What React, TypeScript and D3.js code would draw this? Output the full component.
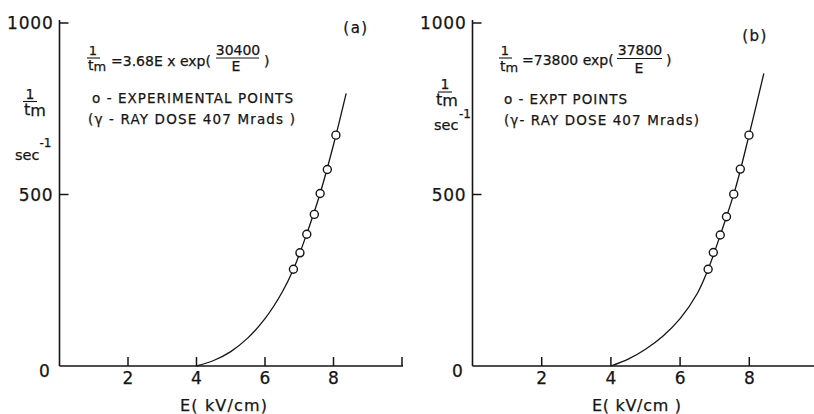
import React from "react";
import * as d3 from "d3";

// ---- data ----
const xTickValues = [2, 4, 6, 8, 10];
const xTickLabels = ["2", "4", "6", "8", ""];
const yTickValues = [0, 500, 1000];
const yTickLabels = ["0", "500", "1000"];

// Panel (a)
const ptsA_E = [6.83, 7.02, 7.22, 7.44, 7.61, 7.82, 8.07];
const ptsA_R = [282, 330, 384, 442, 503, 573, 673];
const fitA_E = [4.0, 4.5, 5.0, 5.5, 6.0, 6.5, 6.83, 7.2, 7.6, 8.0, 8.37];
const fitA_R = [0, 16, 42, 82, 138, 215, 282, 380, 500, 645, 795];

// Panel (b)
const ptsB_E = [6.81, 6.96, 7.16, 7.34, 7.55, 7.74, 7.99];
const ptsB_R = [282, 331, 382, 435, 501, 574, 673];
const fitB_E = [4.0, 4.5, 5.0, 5.5, 6.0, 6.5, 6.81, 7.2, 7.6, 8.0, 8.42];
const fitB_R = [0, 20, 49, 87, 138, 212, 282, 393, 518, 676, 853];

const FONT = "DejaVu Sans";
const INK = "#151515";

type PanelProps = {
  x: d3.ScaleLinear<number, number>;
  y: d3.ScaleLinear<number, number>;
  axisEnd: number;
  ptsE: number[];
  ptsR: number[];
  fitE: number[];
  fitR: number[];
};

function Panel({ x, y, axisEnd, ptsE, ptsR, fitE, fitR }: PanelProps) {
  const fit: [number, number][] = fitE.map((e, i) => [e, fitR[i]]);
  const line = d3
    .line<[number, number]>()
    .x((d) => x(d[0]))
    .y((d) => y(d[1]))
    .curve(d3.curveCatmullRom.alpha(0.5));
  const x0 = x(0);
  const y0 = y(0);
  return (
    <g>
      {/* axes */}
      <line x1={x0} x2={x0} y1={y(1000) - 3} y2={y0} stroke={INK} strokeWidth={1.6} />
      <line x1={x0} x2={axisEnd} y1={y0} y2={y0} stroke={INK} strokeWidth={1.6} />
      {yTickValues.map((v, i) => (
        <g key={"y" + v}>
          {v > 0 && <line x1={x0} x2={x0 + 9} y1={y(v)} y2={y(v)} stroke={INK} strokeWidth={1.5} />}
          <text
            x={x0 - (v === 0 ? 9 : 6)}
            y={y(v) + (v === 0 ? 11 : 6)}
            textAnchor="end"
            fontSize={17}
            letterSpacing={0.8}
            fontFamily={FONT}
            fill={INK}
            stroke={INK}
            strokeWidth={0.25}
          >
            {yTickLabels[i]}
          </text>
        </g>
      ))}
      {xTickValues.map((v, i) => (
        <g key={"x" + v}>
          <line x1={x(v)} x2={x(v)} y1={y0} y2={y0 - 9} stroke={INK} strokeWidth={1.5} />
          <text
            x={x(v)}
            y={y0 + 18}
            textAnchor="middle"
            fontSize={17}
            fontFamily={FONT}
            fill={INK}
            stroke={INK}
            strokeWidth={0.25}
          >
            {xTickLabels[i]}
          </text>
        </g>
      ))}
      <path d={line(fit) ?? ""} fill="none" stroke={INK} strokeWidth={1.3} />
      {ptsE.map((e, i) => (
        <circle key={i} cx={x(e)} cy={y(ptsR[i])} r={4} fill="#fff" stroke={INK} strokeWidth={1.4} />
      ))}
    </g>
  );
}

export default function App() {
  const y = d3.scaleLinear().domain([0, 1000]).range([366, 23]);
  const xA = d3.scaleLinear().domain([0, 10]).range([59.5, 402]);
  const xB = d3.scaleLinear().domain([0, 10]).range([472.5, 818.5]);
  const t = { fontFamily: FONT, fill: INK, stroke: INK, strokeWidth: 0.25 } as const;
  return (
    <svg
      width={814}
      height={414}
      viewBox="0 0 814 414"
      style={{ position: "absolute", left: 0, top: 0, background: "#fff" }}
    >
      <rect width={814} height={414} fill="#fff" />
      <Panel x={xA} y={y} axisEnd={403} ptsE={ptsA_E} ptsR={ptsA_R} fitE={fitA_E} fitR={fitA_R} />
      <Panel x={xB} y={y} axisEnd={814} ptsE={ptsB_E} ptsR={ptsB_R} fitE={fitB_E} fitR={fitB_R} />

      {/* ---- panel (a) annotations ---- */}
      <text x={356} y={33} textAnchor="middle" fontSize={15} letterSpacing={1.5} {...t}>(a)</text>
      {/* formula */}
      <text x={93} y={55} textAnchor="middle" fontSize={13} {...t}>1</text>
      <line x1={87} x2={100} y1={58} y2={58} stroke={INK} strokeWidth={1.1} />
      <text x={88} y={70} fontSize={14} {...t}>t<tspan fontSize={13} dy={1}>m</tspan></text>
      <text x={111} y={66} fontSize={14} {...t}>=3.68E x exp(</text>
      <text x={238} y={55} textAnchor="middle" fontSize={14} {...t}>30400</text>
      <line x1={216} x2={259} y1={58} y2={58} stroke={INK} strokeWidth={1.1} />
      <text x={236} y={71} textAnchor="middle" fontSize={14} {...t}>E</text>
      <text x={264} y={66} fontSize={14} {...t}>)</text>
      <text x={92} y={103} fontSize={13.5} textLength={201} lengthAdjust="spacing" {...t}>o - EXPERIMENTAL POINTS</text>
      <text x={88} y={124} fontSize={13.5} textLength={207} lengthAdjust="spacing" {...t}>(γ - RAY  DOSE  407  Mrads )</text>
      {/* y label */}
      <text x={30} y={99} textAnchor="middle" fontSize={14} {...t}>1</text>
      <line x1={23} x2={37} y1={101.5} y2={101.5} stroke={INK} strokeWidth={1.1} />
      <text x={24} y={115} fontSize={16} {...t}>t<tspan dy={1}>m</tspan></text>
      <text x={15} y={160} fontSize={14.5} {...t}>sec</text>
      <text x={39.5} y={147} fontSize={12} {...t}>-1</text>
      {/* x label */}
      <text x={180} y={411} fontSize={16} textLength={87} lengthAdjust="spacing" {...t}>E( kV/cm)</text>

      {/* ---- panel (b) annotations ---- */}
      <text x={755} y={41} textAnchor="middle" fontSize={15} letterSpacing={1.5} {...t}>(b)</text>
      <text x={505} y={55} textAnchor="middle" fontSize={13} {...t}>1</text>
      <line x1={499} x2={512} y1={58} y2={58} stroke={INK} strokeWidth={1.1} />
      <text x={500} y={71} fontSize={14} {...t}>t<tspan fontSize={13} dy={1}>m</tspan></text>
      <text x={522} y={65} fontSize={14} {...t}>=73800 exp(</text>
      <text x={640} y={55} textAnchor="middle" fontSize={14} {...t}>37800</text>
      <line x1={617} x2={662} y1={58.5} y2={58.5} stroke={INK} strokeWidth={1.1} />
      <text x={639} y={73} textAnchor="middle" fontSize={14} {...t}>E</text>
      <text x={666} y={65} fontSize={14} {...t}>)</text>
      <text x={504} y={104} fontSize={13.5} textLength={123} lengthAdjust="spacing" {...t}>o - EXPT POINTS</text>
      <text x={504} y={125} fontSize={13.5} textLength={195} lengthAdjust="spacing" {...t}>(γ- RAY  DOSE  407  Mrads)</text>
      {/* y label */}
      <text x={445} y={89} textAnchor="middle" fontSize={14} {...t}>1</text>
      <line x1={438} x2={452} y1={92} y2={92} stroke={INK} strokeWidth={1.1} />
      <text x={436} y={105} fontSize={16} {...t}>t<tspan dy={1}>m</tspan></text>
      <text x={434} y={130} fontSize={14.5} {...t}>sec</text>
      <text x={459} y={118} fontSize={12} {...t}>-1</text>
      <text x={592} y={411} fontSize={16} textLength={89} lengthAdjust="spacing" {...t}>E( kV/cm )</text>
    </svg>
  );
}
